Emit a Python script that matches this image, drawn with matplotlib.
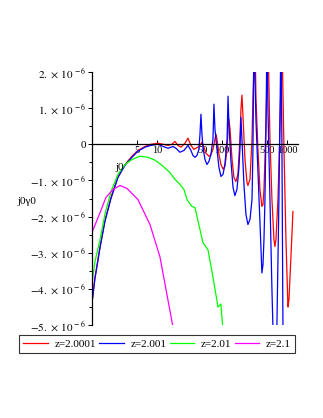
import numpy as np
import matplotlib
matplotlib.use("Agg")
import matplotlib.pyplot as plt

plt.rcParams['font.family'] = ['Liberation Serif', 'DejaVu Serif']
plt.rcParams['mathtext.fontset'] = 'stix'

# values, y in units of 1e-6
red_x = [1.0, 1.11, 1.33, 1.58, 1.96, 2.51, 3.22, 4.12, 5.10, 6.54, 8.09, 10.4, 12.4, 14.8,
         17.0, 18.9, 21.0, 23.4, 27.0, 30.0, 33.3, 37.0, 42.7, 45.9, 49.2, 52.9, 56.7, 63.1,
         67.7, 72.7, 78.0, 80.9, 83.8, 89.9, 96.5, 104, 111, 120, 124, 128, 133, 143, 153,
         164, 176, 189, 196, 203, 210, 226, 243, 251, 270, 290, 300, 322, 334, 358, 384,
         412, 428, 443, 459, 476, 492, 510, 548, 588, 631, 653, 677, 727, 780, 838, 900,
         966, 1036, 1074, 1110, 1194, 1237]
red_y = [-4.36, -3.69, -2.83, -2.11, -1.47, -0.89, -0.56, -0.33, -0.17, -0.06, 0.0, 0.03, 0.0, -0.03,
         0.0, 0.08, -0.03, -0.08, 0.03, 0.17, -0.03, -0.14, -0.08, -0.03, 0.06, -0.08, -0.25, -0.33,
         -0.28, -0.14, 0.14, 0.28, 0.14, -0.28, -0.56, -0.69, -0.61, -0.14, 0.42, 0.69, 0.42, -0.42, -0.92,
         -1.03, -0.83, 0.14, 0.97, 1.36, 0.83, -0.42, -1.06, -1.14, -0.97, 0.14, 1.25, 3.0, 1.25, -0.14, -1.25,
         -1.72, -1.67, -1.25, -0.42, 0.69, 1.67, 3.0, 0.14, -1.53, -2.64, -2.83, -2.64, -1.53, 0.42, 3.0, -0.14,
         -2.64, -4.5, -4.31, -3.75, -2.5, -1.86]

blue_x = [1.0, 1.11, 1.33, 1.58, 1.96, 2.51, 3.22, 4.12, 5.10, 6.54, 8.09, 10.4, 12.4, 14.8,
          16.4, 17.6, 19.6, 22.6, 26.0, 30.0, 33.3, 35.8, 38.4, 41.2, 44.2, 45.9, 47.5, 49.2,
          51.0, 54.8, 58.8, 63.1, 67.7, 72.7, 75.3, 78.0, 83.8, 89.9, 96.5, 104, 111, 120,
          124, 128, 137, 148, 158, 170, 182, 189, 196, 203, 218, 234, 251, 270, 290, 300,
          310, 334, 358, 384, 412, 428, 443, 459, 476, 492, 510, 548, 588, 609, 640, 700,
          753, 809, 838, 868, 880]
blue_y = [-4.4, -3.72, -2.86, -2.14, -1.50, -0.92, -0.58, -0.36, -0.19, -0.08, -0.03, 0.0, -0.06, -0.11,
          -0.08, -0.06, -0.11, -0.22, -0.17, -0.03, -0.17, -0.31, -0.36, -0.31, -0.14, 0.28, 0.83, 0.28,
          -0.08, -0.42, -0.56, -0.47, -0.28, 0.14, 1.11, 0.42, -0.14, -0.64, -0.89, -0.83, -0.56, 0.14,
          1.33, 0.56, -0.42, -1.19, -1.42, -1.25, -0.69, -0.14, 0.75, 0.14, -1.11, -1.94, -2.22, -2.08, -1.53, -0.14,
          3.0, 0.64, -0.75, -2.14, -3.56, -3.33, -2.64, -1.53, 0.42, 3.0, 0.97, -1.53, -4.03, -5.06, -6.0, -5.06,
          -1.53, 3.0, -0.14, -5.06, -6.0]

green_x = [1.0, 1.11, 1.33, 1.58, 1.96, 2.51, 3.22, 4.12, 5.47, 7.27, 9.31, 11.9, 15.8, 18.9,
           22.6, 26.0, 29.0, 34.5, 38.4, 45.9, 51.0, 60.9, 72.7, 86.8, 96.5, 104]
green_y = [-3.85, -3.25, -2.64, -1.94, -1.31, -0.83, -0.56, -0.42, -0.33, -0.36, -0.44, -0.58, -0.78, -0.97,
           -1.11, -1.25, -1.53, -1.72, -1.75, -2.36, -2.72, -2.92, -3.67, -4.50, -4.42, -5.2]

mag_x = [1.0, 1.33, 1.64, 2.10, 2.70, 3.45, 5.10, 7.80, 11.1, 17.6]
mag_y = [-2.44, -1.89, -1.47, -1.25, -1.14, -1.22, -1.53, -2.22, -3.11, -5.05]

labels = ["z=2.0001", "z=2.001", "z=2.01", "z=2.1"]
colors = ["#ff0000", "#0000ff", "#00ff00", "#ff00ff"]

xticks = [5, 10, 50, 100, 500, 1000]
yticks = [2, 1, 0, -1, -2, -3, -4, -5]

fig = plt.figure(figsize=(3.23, 4.18), dpi=100)
ax = fig.add_axes([92/323, 1-325/418, (298-92)/323, (325-72)/418])

for xs, ys, c, lab in zip([red_x, blue_x, green_x, mag_x], [red_y, blue_y, green_y, mag_y], colors, labels):
    ax.plot(xs, np.array(ys)*1e-6, color=c, lw=0.9, label=lab)

ax.set_xscale('log')
ax.set_xlim(1, 1480)
ax.set_ylim(-5e-6, 2e-6)

ax.spines['top'].set_visible(False)
ax.spines['right'].set_visible(False)
ax.spines['bottom'].set_position(('data', 0))
ax.spines['bottom'].set_linewidth(0.9)
ax.spines['left'].set_linewidth(0.9)

ax.set_xticks(xticks)
ax.set_xticklabels([str(t) for t in xticks])
ax.xaxis.set_minor_locator(matplotlib.ticker.NullLocator())
ax.tick_params(axis='x', direction='in', length=3, width=0.7, pad=1, labelsize=7.5)

ylabs = []
for t in yticks:
    if t == 0:
        ylabs.append("0")
    elif t > 0:
        ylabs.append(r"$%d.\,\times\,10^{\,-6}$" % t)
    else:
        ylabs.append(r"$-%d.\,\times\,10^{\,-6}$" % (-t))
ax.set_yticks([t*1e-6 for t in yticks])
ax.set_yticklabels(ylabs)
ax.set_yticks([(t+0.5)*1e-6 for t in yticks[1:]], minor=True)
ax.tick_params(axis='y', which='major', direction='out', length=3, width=0.7, pad=1, labelsize=8)
ax.tick_params(axis='y', which='minor', direction='out', length=2, width=0.7)

fig.text(120/323, 1-167/418, "j0", fontsize=8, ha='center', va='center')
fig.text(27/323, 1-202/418, "j0\u03b30", fontsize=8, ha='center', va='center')

leg = fig.legend(loc='center', bbox_to_anchor=(157/323, 1-344/418), ncol=4, fontsize=8,
                 frameon=True, fancybox=False, handlelength=2.2, columnspacing=0.3,
                 handletextpad=0.6, borderpad=0.4, borderaxespad=0)
leg.get_frame().set_edgecolor('black')
leg.get_frame().set_linewidth(0.8)

fig.savefig("out.png", dpi=100)
